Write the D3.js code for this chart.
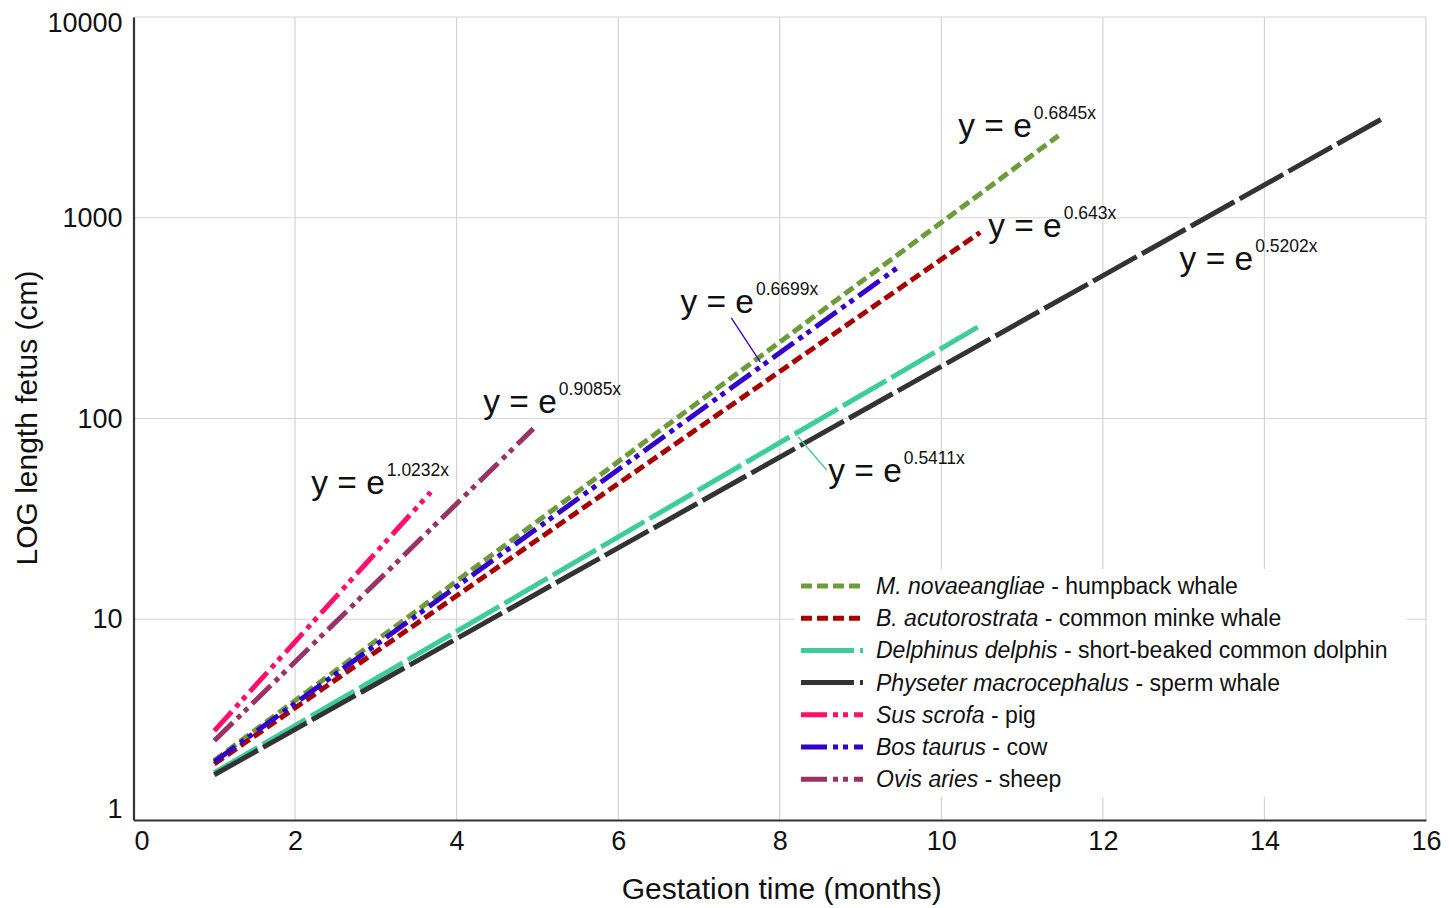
<!DOCTYPE html>
<html>
<head>
<meta charset="utf-8">
<script src="https://cdn.jsdelivr.net/npm/d3@7"></script>
<style>
  body { margin: 0; background: #fff; }
  svg { font-family: "Liberation Sans", Arial, sans-serif; }
</style>
</head>
<body>
<svg width="1449" height="908"></svg>
<script>
// series (endpoints of the fitted curves)
const species = ['M. novaeangliae', 'B. acutorostrata', 'Delphinus delphis', 'Physeter macrocephalus', 'Sus scrofa', 'Bos taurus', 'Ovis aries'];
const commonNames = ['humpback whale', 'common minke whale', 'short-beaked common dolphin', 'sperm whale', 'pig', 'cow', 'sheep'];
const startMonth = [1, 1, 1, 1, 1, 1, 1];
const endMonth = [11.45, 10.48, 10.45, 15.45, 3.68, 9.5, 4.95];
const startLength = [1.98, 1.90, 1.72, 1.68, 2.78, 1.95, 2.48];
const endLength = [2560, 845, 285, 3100, 43, 580, 89];
const coefficients = ['0.6845', '0.643', '0.5411', '0.5202', '1.0232', '0.6699', '0.9085'];

// equation labels, anchored in data units (month, length)
const labelIndex = [0, 1, 2, 3, 4, 5, 6];
const labelMonth = [10.21, 10.58, 8.60, 12.95, 2.20, 6.77, 4.33];
const labelLength = [2525, 802, 48.3, 549, 42, 335, 106];

const xTicks = [0, 2, 4, 6, 8, 10, 12, 14, 16];
const yTicks = [1, 10, 100, 1000, 10000];

const colors = ['#6c9c3a', '#a80000', '#3dcc9b', '#333333', '#ff0f6a', '#3300cc', '#993366'];
const dashes = ['11,5', '11,5', '50,6', '50,6', '26,6,5,5,5,6', '26,6,5,5,5,6', '26,6,5,5,5,6'];
const legendDashes = ['11,5', '11,5', '53,6,3,20', '53,6,3,20', '26,6,5,5,5,6', '26,6,5,5,5,6', '26,6,5,5,5,6'];

const svg = d3.select('svg');

const x = d3.scaleLinear().domain([0, 16]).range([133.5, 1426]);
const y = d3.scaleLog().domain([1, 10000]).range([820, 17]);

// grid
svg.append('g')
  .selectAll('line')
  .data(xTicks.slice(1))
  .enter()
  .append('line')
  .attr('x1', d => x(d)).attr('x2', d => x(d))
  .attr('y1', y(10000)).attr('y2', y(1))
  .attr('stroke', '#d4d4d4')
  .attr('stroke-width', 1.2);

svg.append('g')
  .selectAll('line')
  .data(yTicks.slice(1))
  .enter()
  .append('line')
  .attr('x1', x(0)).attr('x2', x(16))
  .attr('y1', d => y(d)).attr('y2', d => y(d))
  .attr('stroke', '#d4d4d4')
  .attr('stroke-width', 1.2);

// axes
const xAxis = svg.append('g')
  .attr('transform', 'translate(0,' + y(1) + ')')
  .call(d3.axisBottom(x).tickValues(xTicks).tickSize(0).tickPadding(11).tickFormat(d3.format('d')));
xAxis.select('.domain').attr('stroke', '#333').attr('stroke-width', 2.2);
xAxis.selectAll('text')
  .attr('font-size', 27)
  .attr('font-family', '"Liberation Sans", Arial, sans-serif')
  .attr('fill', '#111')
  .attr('dx', d => d === 0 ? 8 : 0);

const yAxis = svg.append('g')
  .attr('transform', 'translate(' + x(0) + ',0)')
  .call(d3.axisLeft(y).tickValues(yTicks).tickSize(0).tickPadding(11).tickFormat(d3.format('d')));
yAxis.select('.domain').attr('stroke', '#333').attr('stroke-width', 2.2);
yAxis.selectAll('text')
  .attr('font-size', 27)
  .attr('font-family', '"Liberation Sans", Arial, sans-serif')
  .attr('fill', '#111')
  .attr('dy', d => d === 10000 ? '0.55em' : d === 1 ? '-0.1em' : '0.32em');

// axis titles
svg.append('text')
  .attr('x', (x(0) + x(16)) / 2 + 2)
  .attr('y', 899)
  .attr('text-anchor', 'middle')
  .attr('font-size', 30)
  .attr('fill', '#111')
  .text('Gestation time (months)');

svg.append('text')
  .attr('transform', 'translate(37,418) rotate(-90)')
  .attr('text-anchor', 'middle')
  .attr('font-size', 30)
  .attr('fill', '#111')
  .text('LOG length fetus (cm)');

// lines
const line = d3.line().x(d => x(d[0])).y(d => y(d[1]));
svg.append('g')
  .selectAll('path')
  .data(species.map((s, i) => ({ i, pts: [[startMonth[i], startLength[i]], [endMonth[i], endLength[i]]] })))
  .enter()
  .append('path')
  .attr('d', d => line(d.pts))
  .attr('fill', 'none')
  .attr('stroke', d => colors[d.i])
  .attr('stroke-width', 5)
  .attr('stroke-dasharray', d => dashes[d.i]);

// leader lines for cow and dolphin labels
const leaders = [
  { i: 5, from: [7.40, 317], to: [7.76, 191] },
  { i: 2, from: [8.23, 80.9], to: [8.58, 55.4] },
];
svg.append('g')
  .selectAll('line')
  .data(leaders)
  .enter()
  .append('line')
  .attr('x1', d => x(d.from[0])).attr('y1', d => y(d.from[1]))
  .attr('x2', d => x(d.to[0])).attr('y2', d => y(d.to[1]))
  .attr('stroke', d => colors[d.i])
  .attr('stroke-width', 1.3);

// equation labels
const eq = svg.append('g')
  .selectAll('text')
  .data(labelIndex)
  .enter()
  .append('text')
  .attr('x', (d, k) => x(labelMonth[k]))
  .attr('y', (d, k) => y(labelLength[k]))
  .attr('font-size', 33.5)
  .attr('fill', '#111');
eq.append('tspan').text('y = e');
eq.append('tspan')
  .attr('font-size', 17.5)
  .attr('dx', 2)
  .attr('dy', -18)
  .text(d => coefficients[d] + 'x');

// legend
const legendG = svg.append('g');
legendG.append('rect')
  .attr('x', 795).attr('y', 569).attr('width', 612).attr('height', 228)
  .attr('fill', '#fff');

const legend = legendG
  .selectAll('g')
  .data(species.map((s, i) => i))
  .enter()
  .append('g')
  .attr('transform', i => 'translate(801,' + (586 + i * 32.2) + ')');

legend.append('line')
  .attr('x1', 0).attr('x2', 62)
  .attr('stroke', i => colors[i])
  .attr('stroke-width', 5)
  .attr('stroke-dasharray', i => legendDashes[i]);

const lt = legend.append('text')
  .attr('x', 75)
  .attr('y', 8)
  .attr('font-size', 23)
  .attr('fill', '#111');
lt.append('tspan').attr('font-style', 'italic').text(i => species[i]);
lt.append('tspan').text(i => ' - ' + commonNames[i]);
</script>
</body>
</html>
